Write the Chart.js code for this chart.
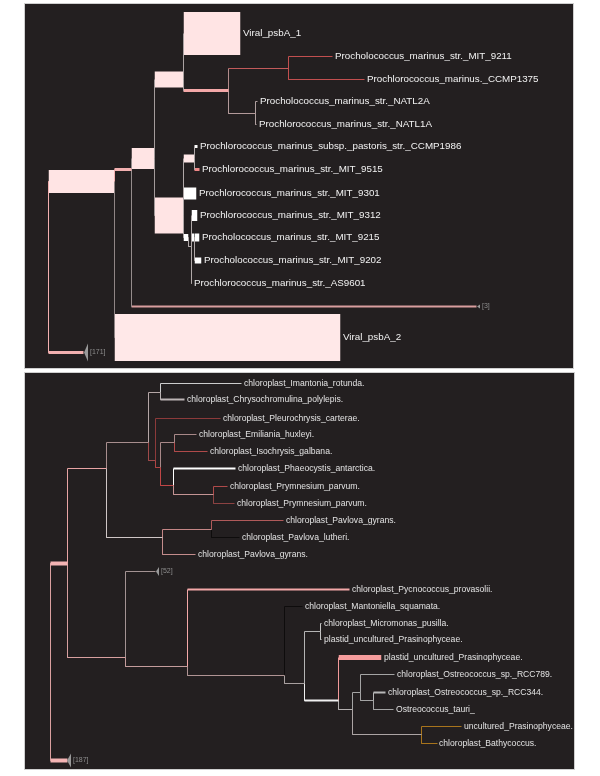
<!DOCTYPE html>
<html><head><meta charset="utf-8">
<script src="https://cdn.jsdelivr.net/npm/chart.js@4.4.1/dist/chart.umd.min.js"></script>
<style>
html,body{margin:0;padding:0;background:#fff;width:600px;height:776px;overflow:hidden}
.panel{position:absolute;background:#231f20;box-shadow:0 0 0 1px #cfcfcf}
canvas{display:block}
</style></head><body>
<div class="panel" style="left:25px;top:4px;width:548px;height:364px"><canvas id="c1" width="548" height="364"></canvas></div>
<div class="panel" style="left:25px;top:373px;width:549px;height:396px"><canvas id="c2" width="549" height="396"></canvas></div>
<script>
// ---------- TOP TREE (psbA, Prochlorococcus) ----------
const topParent = [-1,0,0,1,1,3,3,5,5,7,7,10,10,11,11,12,12,8,17,17,8,8,21,22,22,22,24,24];
const topDepth  = [23,89,58,106,315,129,451,158,158,215,203,263,230,307,339,232,231,169,172,174,171,163,166,172,169,166,174,176];
const topRow    = [177,177,348,165,333,154,302,75,211,29,86,64,109,52,75,97,120,154,142,165,189,233,242,211,233,279,233,256];
const topSupport= [0,23,3,3,47,21,2,16,36,43,3,1,1,1,1,1,1,8,3,3,12,7,1,11,8,1,8,6];
const topLabels = ['','','[171]','','Viral_psbA_2','','[3]','','','Viral_psbA_1','','','',
  'Procholococcus_marinus_str._MIT_9211','Prochlorococcus_marinus._CCMP1375',
  'Procholococcus_marinus_str._NATL2A','Prochlorococcus_marinus_str._NATL1A','',
  'Prochlorococcus_marinus_subsp._pastoris_str._CCMP1986','Prochlorococcus_marinus_str._MIT_9515',
  'Prochlorococcus_marinus_str._MIT_9301','','','Prochlorococcus_marinus_str._MIT_9312','',
  'Prochlorococcus_marinus_str._AS9601','Procholococcus_marinus_str._MIT_9215','Procholococcus_marinus_str._MIT_9202'];

// ---------- BOTTOM TREE (chloroplast) ----------
const botParent = [-1,0,0,1,1,3,3,5,5,7,7,8,8,12,12,13,13,14,14,18,18,6,21,21,6,4,4,26,26,28,28,30,31,31,30,34,34,36,37,37,39,39,36,42,42];
const botDepth  = [25,42,42,81,100,123,137,135,130,216,159,195,135,149,148,171,182,210,188,202,209,186,258,214,170,130,162,324,259,277,279,295,296,296,313,356,327,335,369,348,360,368,396,436,412];
const botRow    = [190,190,387,95,284,69,164,19,87,10,26,45,94,69,112,61,78,95,121,113,130,156,147,164,181,198,293,216,302,233,310,258,250,266,327,284,336,319,301,327,319,336,361,353,370];
const botSupport= [0,4,4,1,1,1,1,1,1,1,2,1,1,1,1,1,1,2,1,1,1,1,1,1,1,1,1,2,1,1,1,1,1,1,2,5,1,1,1,1,2,1,1,1,1];
const botLabels = ['','','[187]','','','','','','',
  'chloroplast_Imantonia_rotunda.','chloroplast_Chrysochromulina_polylepis.','chloroplast_Pleurochrysis_carterae.','','',
  '','chloroplast_Emiliania_huxleyi.','chloroplast_Isochrysis_galbana.','chloroplast_Phaeocystis_antarctica.','',
  'chloroplast_Prymnesium_parvum.','chloroplast_Prymnesium_parvum.','','chloroplast_Pavlova_gyrans.','chloroplast_Pavlova_lutheri.',
  'chloroplast_Pavlova_gyrans.','[52]','','chloroplast_Pycnococcus_provasolii.','','chloroplast_Mantoniella_squamata.','','',
  'chloroplast_Micromonas_pusilla.','plastid_uncultured_Prasinophyceae.','','plastid_uncultured_Prasinophyceae.','','',
  'chloroplast_Ostreococcus_sp._RCC789.','','chloroplast_Ostreococcus_sp._RCC344.','Ostreococcus_tauri_','',
  'uncultured_Prasinophyceae.','chloroplast_Bathycoccus.'];

// ---------- styles (kept apart from the data) ----------
const topStyle = {
  1:{line:'#d39a9a',fill:'#ffe4e4'}, 2:{line:'#f2b0b0'}, 3:{line:'#f2b0b0'}, 4:{line:'#8f8585',fill:'#ffe8e8'},
  5:{line:'#958c8c',fill:'#ffe4e4'}, 6:{line:'#d99e9e',vline:'#958c8c'}, 7:{line:'#a39b9b',fill:'#ffe4e4'}, 8:{line:'#a39b9b',fill:'#ffe4e4'},
  9:{line:'#aaa2a2',fill:'#ffe4e4'}, 10:{line:'#f4a8a8',vline:'#aaa2a2'}, 11:{line:'#c25a5a',vline:'#b38c8c'}, 12:{line:'#b39a9a'},
  13:{line:'#c24f4f'}, 14:{line:'#c24f4f'}, 15:{line:'#b0a0a0'}, 16:{line:'#b0a0a0'},
  17:{line:'#b0a8a8',fill:'#ffe8e8'}, 18:{line:'#b0a8a8',h:'#ffffff'}, 19:{line:'#b0a8a8',h:'#f08888'}, 20:{line:'#b0a8a8',fill:'#ffffff'},
  21:{line:'#b0a8a8',fill:'#ffffff'}, 22:{line:'#b0a8a8'}, 23:{line:'#b0a8a8',fill:'#ffffff'}, 24:{line:'#b0a8a8',fill:'#ffffff'},
  25:{line:'#b0a8a8'}, 26:{line:'#b0a8a8',fill:'#ffffff'}, 27:{line:'#b0a8a8',fill:'#ffffff'}
};
const botStyle = {
  1:{line:'#f4b4b4'}, 2:{line:'#f4b4b4',vline:'#dba0a0'}, 3:{line:'#e8a4a4'}, 4:{line:'#d8a0a0'}, 5:{line:'#a88e8e'}, 6:{line:'#cfc6c6'},
  7:{line:'#b4a6a6'}, 8:{line:'#a04a4a'}, 9:{line:'#cccccc'}, 10:{line:'#bdb5b5'}, 11:{line:'#8c3a3a'}, 12:{line:'#b04444'},
  13:{line:'#a88888'}, 14:{line:'#c04646'}, 15:{line:'#a88888'}, 16:{line:'#b04a4a'}, 17:{line:'#ffffff'}, 18:{line:'#c49494'},
  19:{line:'#b04a4a'}, 20:{line:'#8c4242'}, 21:{line:'#c48686'}, 22:{line:'#b05a5a'}, 23:{line:'#0e0c0c'}, 24:{line:'#c48c8c'},
  25:{line:'#a39393'}, 26:{line:'#c49c9c'}, 27:{line:'#f4a8a8'}, 28:{line:'#b09494'}, 29:{line:'#0e0c0c'}, 30:{line:'#a8a0a0'},
  31:{line:'#b4b4b4'}, 32:{line:'#c4c4c4'}, 33:{line:'#c4c4c4'}, 34:{line:'#f0f0f0'}, 35:{line:'#f29a9a',fill:'#f59c9c'},
  36:{line:'#b4b0b0'}, 37:{line:'#a4a4a4'}, 38:{line:'#a4a4a4'}, 39:{line:'#a4a4a4'}, 40:{line:'#b8b8b8'}, 41:{line:'#a4a4a4'},
  42:{line:'#aca4a4'}, 43:{line:'#a8741c'}, 44:{line:'#a8741c'}
};
const collapseSize = {'[171]':[18,4],'[3]':[4,3],'[52]':[9,3],'[187]':[14,4]};

function buildDatasets(parent, depth, row, support, style) {
  const boxes = [], lines = [];
  for (let i = 0; i < parent.length; i++) {
    const p = parent[i];
    if (p < 0) continue;
    const st = style[i] || {line:'#a0a0a0'};
    const px = depth[p], py = row[p], cx = depth[i], cy = row[i], s = support[i];
    lines.push({data:[{x:px,y:py},{x:px,y:cy}], borderColor: st.vline || st.line, borderWidth:1});
    if (s >= 5) {
      const col = st.fill || '#ffe4e4';
      boxes.push({data:[{x:px,y:cy + s/2},{x:cx,y:cy + s/2}], borderWidth:0, borderColor:'rgba(0,0,0,0)',
        backgroundColor: col, fill:{target:{value: cy - s/2}, above: col, below: col}});
    } else {
      lines.push({data:[{x:px,y:cy},{x:cx,y:cy}], borderColor: st.h || st.line, borderWidth: Math.max(1, s)});
    }
  }
  return lines.concat(boxes).map(d => Object.assign({pointRadius:0, tension:0, fill: d.fill || false, borderCapStyle:'butt'}, d));
}

function labelPlugin(labels, depth, row, font, colour) {
  return {
    id:'leafLabels',
    afterDatasetsDraw(chart) {
      const ctx = chart.ctx, xs = chart.scales.x, ys = chart.scales.y;
      ctx.save();
      ctx.textBaseline = 'middle';
      for (let i = 0; i < labels.length; i++) {
        const t = labels[i];
        if (!t) continue;
        const x = Math.round(xs.getPixelForValue(depth[i])), y = ys.getPixelForValue(row[i]);
        if (t[0] === '[') {
          const [h, w] = collapseSize[t];
          ctx.fillStyle = '#9a9a9a';
          ctx.beginPath();
          ctx.moveTo(x, y); ctx.lineTo(x + w, y - h/2); ctx.lineTo(x + w, y + h/2); ctx.closePath(); ctx.fill();
          ctx.font = '7px "Liberation Sans", Arial, sans-serif';
          ctx.fillStyle = '#8c8c8c';
          ctx.fillText(t, x + w + 2, y);
        } else {
          ctx.font = font;
          ctx.fillStyle = colour;
          ctx.fillText(t, x + 2, y);
        }
      }
      ctx.restore();
    }
  };
}

function makeTree(id, W, H, parent, depth, row, support, labels, style, font, colour) {
  new Chart(document.getElementById(id), {
    type:'line',
    data:{datasets: buildDatasets(parent, depth, row, support, style)},
    options:{
      responsive:false, animation:false, devicePixelRatio:1, events:[],
      layout:{padding:0},
      plugins:{legend:{display:false}, tooltip:{enabled:false}},
      scales:{
        x:{type:'linear', min:-0.5, max:W-0.5, display:false},
        y:{type:'linear', min:-0.5, max:H-0.5, reverse:true, display:false}
      }
    },
    plugins:[labelPlugin(labels, depth, row, font, colour)]
  });
}

makeTree('c1', 548, 364, topParent, topDepth, topRow, topSupport, topLabels, topStyle,
  '9.8px "Liberation Sans", Arial, sans-serif', '#f2f2f2');
makeTree('c2', 549, 396, botParent, botDepth, botRow, botSupport, botLabels, botStyle,
  '8.6px "Liberation Sans", Arial, sans-serif', '#e2e2e2');
</script>
</body></html>
